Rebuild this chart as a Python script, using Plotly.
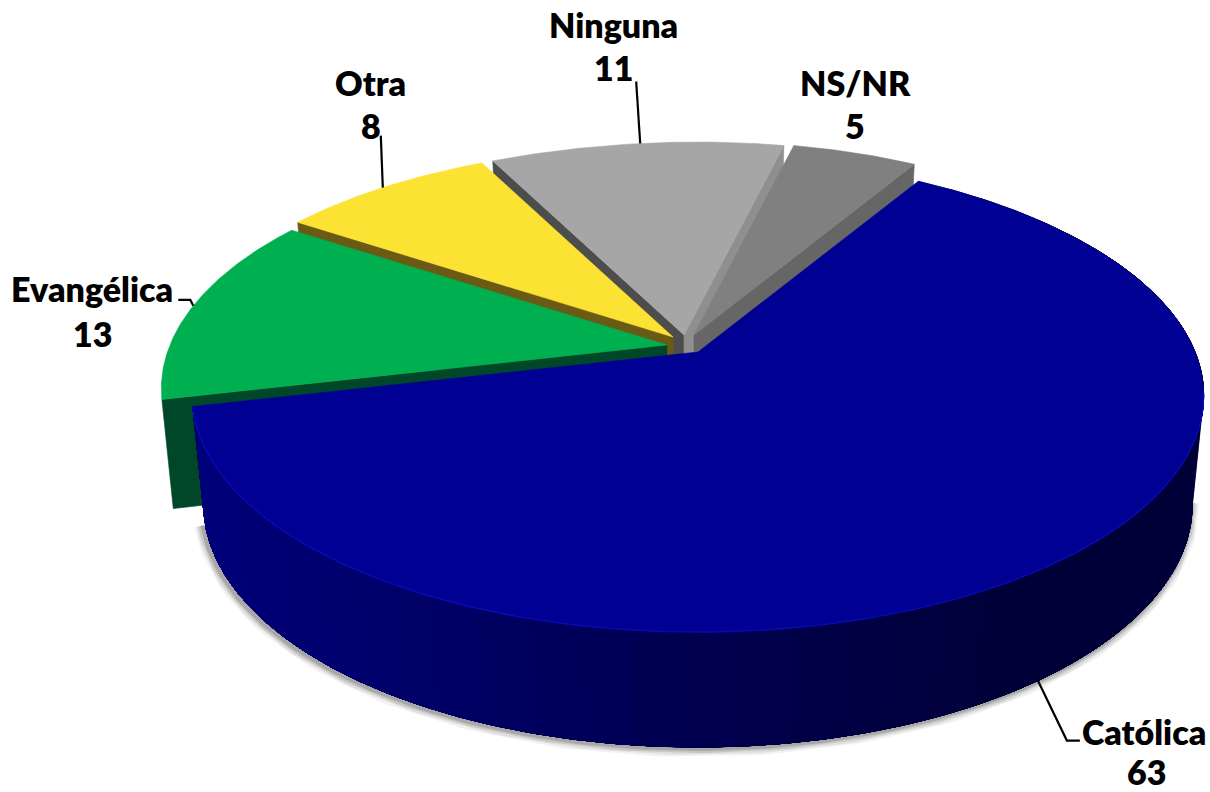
import numpy as np
import plotly.graph_objects as go

# --- data ---
categories = ["Católica", "Evangélica", "Otra", "Ninguna", "NS/NR"]
values = [63, 13, 8, 11, 5]

# --- style / layout ---
top_colors = ["#000092", "#00B050", "#FCE233", "#A6A6A6", "#808080"]
front_cut_colors = [None, "#00472A", "#6B5A14", "#4D4D4D", None]
back_cut_colors = [None, None, None, "#8F8F8F", "#666666"]
tips = [(698, 352), (667, 345), (673, 337), (684, 335), (694, 335)]
draw_order = [3, 4, 2, 1, 0]
first_angle = 30.0
label_xy = [((1144, 731), (1146, 771)), ((92, 288), (92, 333)), ((370, 82), (371, 125)),
            ((613, 24), (613, 67)), ((855, 82), (855, 125))]
leader_tail = [[(29, 60), (42, 60)], [(-3, -6), (-15, -6)], [(-2, -52)], [(-4, -62)], None]
FONT = dict(family="Lato, Carlito, sans-serif", size=34, color="#000000", weight=800)

A, B, K = 497.0, 228.5, 0.184
SX, SY, DROP = 0.9775, 1.026, 107.7


def top_point(tip, ang):
    t = np.radians(ang)
    u, v = np.sin(t), np.cos(t)
    den = 1 + K * v
    lean = 14 * np.clip(v, 0, None) ** 6
    return tip[0] + A * u / den + lean, tip[1] - B * v / den


def lower(tip, x, y):
    return tip[0] + SX * (np.asarray(x) - tip[0]), tip[1] + SY * (np.asarray(y) - tip[1]) + DROP


def poly(x, y, color):
    return go.Scatter(x=list(x), y=list(y), mode="lines", fill="toself", fillcolor=color,
                      line=dict(color=color, width=0.6), hoverinfo="skip", showlegend=False)


fig = go.Figure()
edges = first_angle + np.concatenate([[0], np.cumsum(values)]) * 3.6


def cut_face(i, ang, color):
    tip = tips[i]
    cx, cy = top_point(tip, ang)
    bx, by = lower(tip, [cx, tip[0]], [cy, tip[1]])
    fig.add_trace(poly([tip[0], cx, bx[0], bx[1], tip[0]], [tip[1], cy, by[0], by[1], tip[1]], color))


# soft shadow under the large slice
main_tip = tips[0]
sh = np.linspace(100, edges[1] - 2, 160)
sx, sy = top_point(main_tip, sh)
bx, by = lower(main_tip, sx, sy)
for w, a in [(18, 0.05), (14, 0.08), (10, 0.11), (6, 0.15)]:
    fig.add_trace(go.Scatter(x=bx - 2, y=by + 1, mode="lines", line=dict(color=f"rgba(0,0,0,{a})", width=w),
                             hoverinfo="skip", showlegend=False))

for i in draw_order:
    tip = tips[i]
    a0, a1 = edges[i], edges[i + 1]
    arc = np.linspace(a0, a1, max(8, int((a1 - a0) * 2)))
    ax, ay = top_point(tip, arc)
    if i == 0:
        # outer wall, shaded in overlapping bands painted from right to left
        strips = np.linspace(a0, a1, 46)
        for s0 in strips[:-1]:
            seg = np.linspace(s0, a1, max(3, int((a1 - s0) * 2)))
            tx, ty = top_point(tip, seg)
            ux, uy = lower(tip, tx, ty)
            f = np.clip((tx[0] - 200) / 840, 0, 1)
            blue = int(122 - 66 * f)
            fig.add_trace(poly(np.r_[tx, ux[::-1], tx[0]], np.r_[ty, uy[::-1], ty[0]], f"rgb(0,0,{blue})"))
    if front_cut_colors[i]:
        cut_face(i, a0, front_cut_colors[i])
    if back_cut_colors[i]:
        cut_face(i, a1, back_cut_colors[i])
    fig.add_trace(poly(np.r_[tip[0], ax, tip[0]], np.r_[tip[1], ay, tip[1]], top_colors[i]))
    if i == 0:
        rim = np.linspace(100, a1, 160)
        rx, ry = top_point(tip, rim)
        fig.add_trace(go.Scatter(x=rx, y=ry, mode="lines", line=dict(color="#0A0AB4", width=1.4),
                                 hoverinfo="skip", showlegend=False))

# leader lines, anchored at each slice's mid angle
for i, tail in enumerate(leader_tail):
    if not tail:
        continue
    mid = (edges[i] + edges[i + 1]) / 2
    x0, y0 = top_point(tips[i], mid)
    if i == 0:
        x0, y0 = lower(tips[i], x0, y0)
    xs = [x0] + [x0 + dx for dx, _ in tail]
    ys = [y0] + [y0 + dy for _, dy in tail]
    fig.add_trace(go.Scatter(x=xs, y=ys, mode="lines", line=dict(color="#000000", width=2.2),
                             hoverinfo="skip", showlegend=False))

for name, val, (p1, p2) in zip(categories, values, label_xy):
    fig.add_annotation(x=p1[0], y=p1[1], text=name, showarrow=False, font=FONT,
                       xanchor="center", yanchor="middle")
    fig.add_annotation(x=p2[0], y=p2[1], text=str(val), showarrow=False, font=FONT,
                       xanchor="center", yanchor="middle")

fig.update_layout(width=1210, height=792, margin=dict(l=0, r=0, t=0, b=0),
                  paper_bgcolor="#FFFFFF", plot_bgcolor="#FFFFFF", showlegend=False,
                  xaxis=dict(range=[0, 1210], visible=False, fixedrange=True),
                  yaxis=dict(range=[792, 0], visible=False, fixedrange=True))
fig.write_html("out.html", config={"displayModeBar": False},
               post_script="document.body.style.margin='0';document.body.style.overflow='hidden';")
